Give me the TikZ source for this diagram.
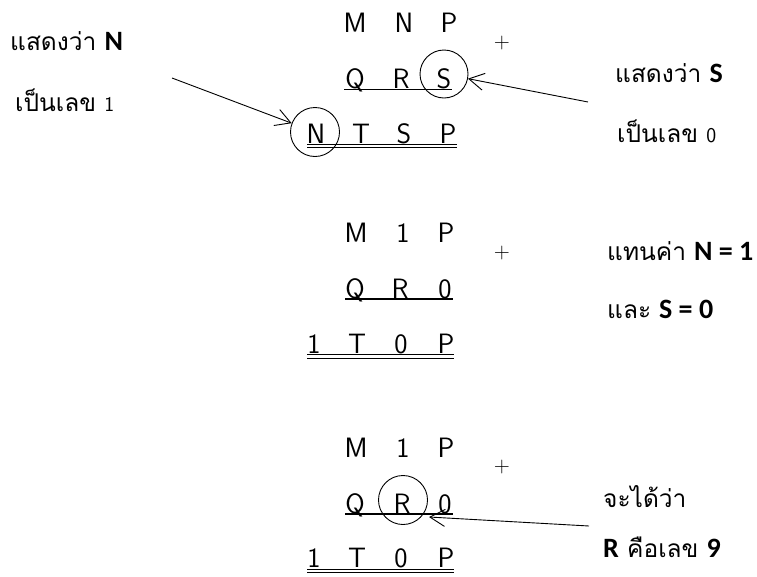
\documentclass[tikz,border=0pt]{standalone}
\usepackage{fontspec}
\usetikzlibrary{arrows.meta}
\newfontfamily\lomafont[Script=Thai]{Loma}
\newfontfamily\calfont{Carlito}
\tikzset{
  ltr/.style={font=\sffamily\fontsize{28}{28}\selectfont, anchor=base, inner sep=0pt},
  thai/.style={font=\lomafont\fontsize{24.5}{24.5}\selectfont, anchor=base west, inner sep=0pt},
  plus/.style={font=\sffamily\fontsize{22}{22}\selectfont, inner sep=0pt},
  ring/.style={circle, draw, line width=0.9pt, minimum size=48pt, inner sep=0pt},
  uline/.style={line width=1.8pt},
  dline/.style={line width=0.9pt},
  arr/.style={line width=0.9pt, -{Straight Barb[length=15pt,width=17pt,line width=0.9pt]}}
}
\newcommand{\bd}[1]{{\calfont\bfseries\fontsize{28}{28}\selectfont #1}}
\newcommand{\sdig}[1]{{\sffamily\fontsize{21}{21}\selectfont #1}}
\begin{document}
\begin{tikzpicture}[x=1pt,y=-1pt]
\useasboundingbox (0,0) rectangle (757,576);
% ---------- top block ----------
\node[ltr] (a1) at (355,32) {M};
\node[ltr] (a2) at (404,32) {N};
\node[ltr] (a3) at (449,32) {P};
\node[plus] (ap) at (502,43) {+};
\node[ltr] (b1) at (355,88) {Q};
\node[ltr] (b2) at (401,88) {R};
\node[ltr] (b3) at (444,88) {S};
\draw[uline] (344,89.5) -- (452,89.5);
\node[ltr] (c1) at (316,143) {N};
\node[ltr] (c2) at (361,143) {T};
\node[ltr] (c3) at (404,143) {S};
\node[ltr] (c4) at (448,143) {P};
\draw[dline] (307,144) -- (457,144);
\draw[dline] (307,147.5) -- (457,147.5);
\node[ring] (cS) at (444,74) {};
\node[ring, minimum size=49pt] (cN) at (315,132) {};
\coordinate (sS) at (588,102);
\coordinate (sN) at (172,78);
\draw[arr] (sS) -- (cS);
\draw[arr] (sN) -- (cN);
\node[thai] (t1) at (10,50) {แสดงว่า \bd{N}};
\node[thai] (t2) at (15,111) {เป็นเลข \sdig{1}};
\node[thai] (t3) at (615,82) {แสดงว่า \bd{S}};
\node[thai] (t4) at (617,142) {เป็นเลข \sdig{0}};
% ---------- middle block ----------
\node[ltr] (d1) at (356,242) {M};
\node[ltr] (d2) at (403,242) {1};
\node[ltr] (d3) at (446,242) {P};
\node[plus] (dp) at (502,253) {+};
\node[ltr] (e1) at (355,298) {Q};
\node[ltr] (e2) at (400,298) {R};
\node[ltr] (e3) at (445,298) {0};
\draw[uline] (345,299) -- (453,299);
\node[ltr] (f1) at (314,353) {1};
\node[ltr] (f2) at (357,353) {T};
\node[ltr] (f3) at (401,353) {0};
\node[ltr] (f4) at (446,353) {P};
\draw[dline] (307,354.5) -- (454,354.5);
\draw[dline] (307,358) -- (454,358);
\node[thai] (t5) at (607,260) {แทนค่า\hspace{8pt}\bd{N = 1}};
\node[thai] (t6) at (607,318) {และ\hspace{8pt}\bd{S = 0}};
% ---------- bottom block ----------
\node[ltr] (g1) at (356,457) {M};
\node[ltr] (g2) at (403,457) {1};
\node[ltr] (g3) at (446,457) {P};
\node[plus] (gp) at (502,467) {+};
\node[ltr] (h1) at (355,513) {Q};
\node[ltr] (h2) at (402,513) {R};
\node[ltr] (h3) at (445,513) {0};
\draw[uline] (345,514) -- (453,514);
\node[ltr] (i1) at (314,567) {1};
\node[ltr] (i2) at (357,567) {T};
\node[ltr] (i3) at (401,567) {0};
\node[ltr] (i4) at (446,567) {P};
\draw[dline] (307,569) -- (454,569);
\draw[dline] (307,572.5) -- (454,572.5);
\node[ring, minimum size=49pt] (cR) at (403,500) {};
\coordinate (sR) at (589,526);
\coordinate (tR) at (429,517);
\draw[arr] (sR) -- (tR);
\node[thai] (t7) at (603,507) {จะได้ว่า};
\node[thai] (t8) at (603,557) {\bd{R} คือเลข \bd{9}};
\end{tikzpicture}
\end{document}
